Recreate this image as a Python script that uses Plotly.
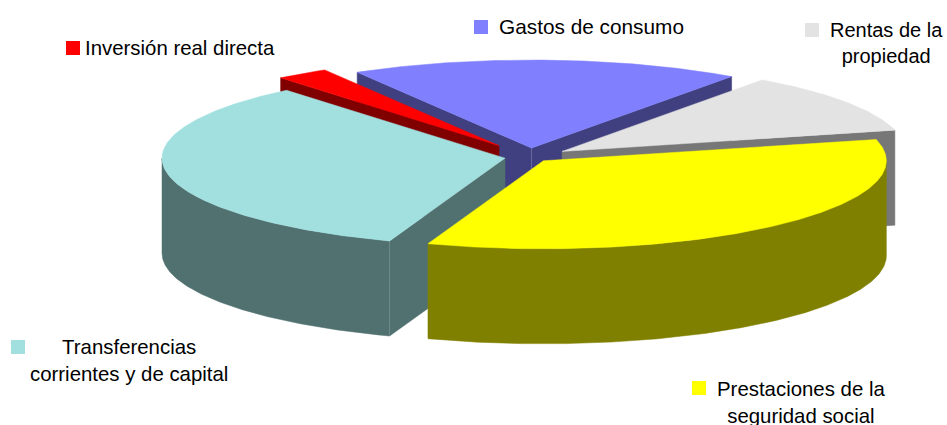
import numpy as np
import plotly.graph_objects as go

# Data (shares of total, percent), in clockwise order starting from the right-hand edge of the yellow slice
categories = ["Prestaciones de la<br>seguridad social", "Transferencias<br>corrientes y de capital",
              "Inversión real directa", "Gastos de consumo", "Rentas de la<br>propiedad"]
values = [34.35, 33.55, 2.5, 18.4, 11.2]
explode = [0.058, 0.074, 0.157, 0.102, 0.113]
top_colors = ["#FFFF00", "#A2E0E0", "#FF0000", "#8080FF", "#E3E3E3"]
side_colors = ["#808000", "#517070", "#800000", "#404080", "#777777"]
seam_colors = [None, "#6E8C8C", None, "#6A6AA0", None]

# Legend placement (pixel-space axes)
key_x = [699, 18, 73, 481, 812]
key_y = [388, 347, 48, 27, 30]
label_x = [715, 129, 83, 497, 828]
label_y = [389, 347, 48, 26, 30]
label_anchor = ["left", "center", "left", "left", "left"]
label_size = [20.4, 20.4, 20.4, 20.8, 20]

# Pie geometry
CX, CY, A, B, DEPTH, START = 530, 157, 343, 88, 95, 346
draw_order = [3, 4, 2, 1, 0]

edges = START + np.concatenate([[0], np.cumsum(values)]) * 3.6
fig = go.Figure()


def poly(xs, ys, color):
    fig.add_trace(go.Scatter(x=xs, y=ys, mode="lines", fill="toself", fillcolor=color,
                             line=dict(color=color, width=0.5), hoverinfo="skip", showlegend=False))


def arc(ax, ay, t0, t1):
    t = np.radians(np.linspace(t0, t1, max(int(abs(t1 - t0) * 2), 2)))
    return ax + A * np.cos(t), ay + B * np.sin(t)


for i in draw_order:
    t0, t1 = edges[i], edges[i + 1]
    mid = np.radians((t0 + t1) / 2)
    ax = CX + explode[i] * A * np.cos(mid)
    ay = CY + explode[i] * B * np.sin(mid)
    # cut faces that look toward the viewer
    for t, visible in ((t0, np.cos(np.radians(t0)) < 0), (t1, np.cos(np.radians(t1)) > 0)):
        if visible:
            ex = ax + A * np.cos(np.radians(t))
            ey = ay + B * np.sin(np.radians(t))
            poly([ax, ex, ex, ax, ax], [ay, ey, ey + DEPTH, ay + DEPTH, ay], side_colors[i])
    # outer rim: the front half of the ellipse only
    for k in (0, 360):
        lo, hi = max(t0, k), min(t1, k + 180)
        if hi > lo:
            rx, ry = arc(ax, ay, lo, hi)
            poly(np.r_[rx, rx[::-1], rx[0]], np.r_[ry, ry[::-1] + DEPTH, ry[0]], side_colors[i])
    # seam at the front edge
    if seam_colors[i]:
        sx = ax + A * np.cos(np.radians(t0)) if i == 1 else ax
        sy = ay + B * np.sin(np.radians(t0)) if i == 1 else ay
        fig.add_trace(go.Scatter(x=[sx, sx], y=[sy, sy + DEPTH], mode="lines",
                                 line=dict(color=seam_colors[i], width=1),
                                 hoverinfo="skip", showlegend=False))
    # top face
    tx, ty = arc(ax, ay, t0, t1)
    poly(np.r_[ax, tx, ax], np.r_[ay, ty, ay], top_colors[i])

# legend keys
fig.add_trace(go.Scatter(x=key_x, y=key_y, mode="markers",
                         marker=dict(symbol="square", size=14, color=top_colors, line=dict(width=0)),
                         hoverinfo="skip", showlegend=False))

for name, x, y, anchor, size in zip(categories, label_x, label_y, label_anchor, label_size):
    fig.add_annotation(x=x, y=y, text=name, showarrow=False, xanchor=anchor, yanchor="top" if "<br>" in name else "middle",
                       align="center", yshift=13 if "<br>" in name else 0,
                       font=dict(family="Liberation Sans, Arial, sans-serif", size=size, color="#000000"))

fig.update_layout(width=947, height=425, margin=dict(l=0, r=0, t=0, b=0),
                  paper_bgcolor="white", plot_bgcolor="white",
                  xaxis=dict(range=[0, 947], visible=False, fixedrange=True),
                  yaxis=dict(range=[425, 0], visible=False, fixedrange=True))
fig.write_html("out.html", config={"displayModeBar": False},
               post_script="document.body.style.margin='0';")
